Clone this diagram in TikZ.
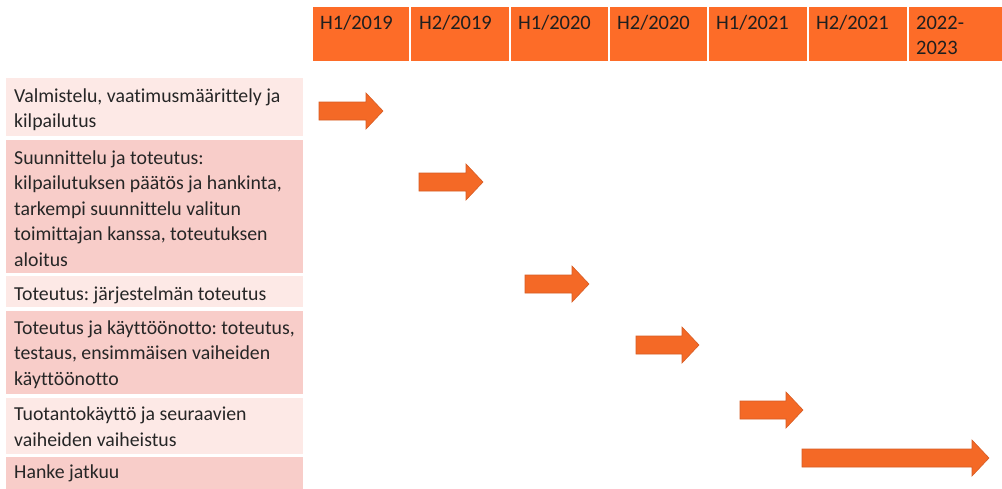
\documentclass[tikz,border=0pt]{standalone}
\usepackage{fontspec}
\setmainfont{Carlito}[Ligatures=NoCommon]
\frenchspacing
\definecolor{hdr}{RGB}{253,108,40}
\definecolor{rowlight}{RGB}{253,233,230}
\definecolor{rowdark}{RGB}{248,205,201}
\definecolor{arrfill}{RGB}{244,105,38}
\definecolor{arrline}{RGB}{214,92,36}
\definecolor{txt}{RGB}{38,38,38}
\tikzset{
  hdrcell/.style={fill=hdr, draw=white, line width=1.2pt},
  hdrtext/.style={anchor=base west, inner sep=0pt, align=left, text=black!88, font=\fontsize{20.5}{25}\selectfont},
  rowtext/.style={anchor=base west, inner sep=0pt, align=left, text=txt, font=\fontsize{19.8}{25.5}\selectfont},
  garrowstyle/.style={fill=arrfill, draw=arrline, line width=0.6pt, line join=miter}
}
\newcommand{\garrow}[3]{% left x, tip x, center y
  \draw[garrowstyle] (#1,#3-9) -- (#2-17,#3-9) -- (#2-17,#3-18) -- (#2,#3) -- (#2-17,#3+18) -- (#2-17,#3+9) -- (#1,#3+9) -- cycle;
}
\begin{document}
\begin{tikzpicture}[x=1pt,y=-1pt]
\useasboundingbox (0,0) rectangle (1002,488);
\fill[white] (0,0) rectangle (1002,488);
% header cells
\foreach \xa/\xb in {312/410,410/510,510/609,609/708,708/808,808/908,908/1004}{
  \path[hdrcell] (\xa,6) rectangle (\xb,62);
}
% anchors of multi-line texts are at their last line's baseline
\node[hdrtext] (t1) at (320,29) {H1/2019};
\node[hdrtext] (t2) at (419,29) {H2/2019};
\node[hdrtext] (t3) at (518,29) {H1/2020};
\node[hdrtext] (t4) at (617,29) {H2/2020};
\node[hdrtext] (t5) at (716,29) {H1/2021};
\node[hdrtext] (t6) at (816,29) {H2/2021};
\node[hdrtext] (t7) at (916,54) {2022-\\2023};
% row cells
\fill[rowlight] (6,78) rectangle (303,136);
\fill[rowdark]  (6,140) rectangle (303,273);
\fill[rowlight] (6,276) rectangle (303,307);
\fill[rowdark]  (6,311) rectangle (303,394);
\fill[rowlight] (6,398) rectangle (303,454);
\fill[rowdark]  (6,457) rectangle (303,490);
\node[rowtext] (r1) at (14,127.5) {Valmistelu, vaatimusmäärittely ja\\kilpailutus};
\node[rowtext] (r2) at (14,266) {Suunnittelu ja toteutus:\\kilpailutuksen päätös ja hankinta,\\tarkempi suunnittelu valitun\\toimittajan kanssa, toteutuksen\\aloitus};
\node[rowtext] (r3) at (14,300) {Toteutus: järjestelmän toteutus};
\node[rowtext] (r4) at (14,385) {Toteutus ja käyttöönotto: toteutus,\\testaus, ensimmäisen vaiheiden\\käyttöönotto};
\node[rowtext] (r5) at (14,446) {Tuotantokäyttö ja seuraavien\\vaiheiden vaiheistus};
\node[rowtext] (r6) at (14,478) {Hanke jatkuu};
% arrows
\garrow{319}{383}{111}
\garrow{419}{483}{182}
\garrow{525}{589}{284}
\garrow{636}{699}{345}
\garrow{740}{803}{410}
\garrow{802}{989}{458}
\end{tikzpicture}
\end{document}
